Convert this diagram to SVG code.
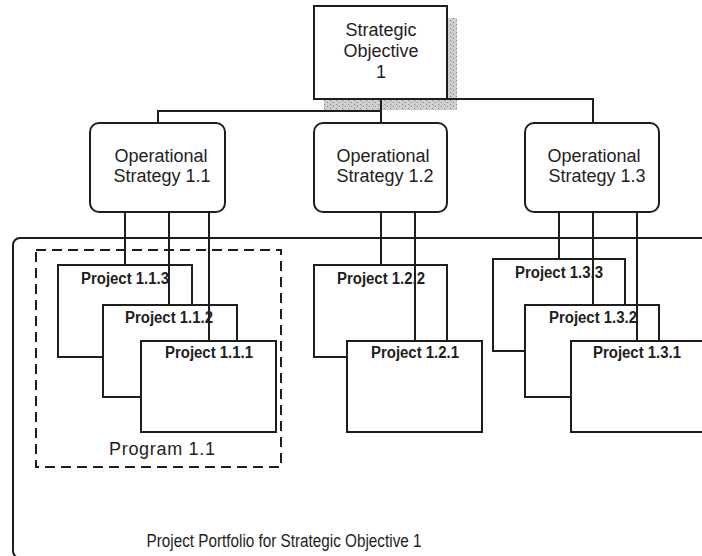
<svg xmlns="http://www.w3.org/2000/svg" width="702" height="556" viewBox="0 0 702 556">
  <style>
    .box { fill: #fff; stroke: #1e1e1e; stroke-width: 2; }
    .wire { fill: none; stroke: #1e1e1e; stroke-width: 2; }
    .dash { fill: none; stroke: #1e1e1e; stroke-width: 2; stroke-dasharray: 10 6; }
    .big { font-family: "Liberation Sans", Arial, sans-serif; font-size: 18px; fill: #1e1e1e; text-anchor: middle; }
    .proj { font-family: "Liberation Sans", Arial, sans-serif; font-size: 16px; font-weight: bold; fill: #1e1e1e; text-anchor: middle; }
  </style>
  <defs>
    <pattern id="stipple" width="6" height="4" patternUnits="userSpaceOnUse">
      <rect width="6" height="4" fill="#d0d0d0"/>
      <rect x="0" y="0" width="1" height="1" fill="#888"/>
      <rect x="3" y="2" width="1" height="1" fill="#888"/>
      <rect x="1" y="1" width="1" height="1" fill="#a8a8a8"/>
    </pattern>
  </defs>
  <rect width="702" height="556" fill="#fff"/>

  <!-- portfolio frame -->
  <g id="portfolio">
    <rect class="box" x="13" y="238" width="720" height="320" rx="7"/>
    <text class="big" x="284" y="547" textLength="275" lengthAdjust="spacingAndGlyphs">Project Portfolio for Strategic Objective 1</text>
  </g>

  <!-- program grouping -->
  <g id="program-1-1">
    <rect class="dash" x="36" y="250" width="245" height="217"/>
    <text class="big" x="162" y="455" textLength="106" lengthAdjust="spacing">Program 1.1</text>
  </g>

  <!-- strategic objective with drop shadow -->
  <g id="objective-1">
    <polygon points="447,18 457,18 457,110 324,110 324,99 447,99" fill="url(#stipple)"/>
    <rect class="box" x="314" y="6" width="133" height="93"/>
    <text class="big" x="381" y="36">Strategic</text>
    <text class="big" x="381" y="57">Objective</text>
    <text class="big" x="381" y="78">1</text>
  </g>

  <!-- operational strategies -->
  <g id="strategy-1-1">
    <rect class="box" x="90" y="123" width="135" height="89" rx="9"/>
    <text class="big" x="161" y="162">Operational</text>
    <text class="big" x="162" y="182">Strategy 1.1</text>
  </g>
  <g id="strategy-1-2">
    <rect class="box" x="314" y="123" width="133" height="89" rx="9"/>
    <text class="big" x="383" y="162">Operational</text>
    <text class="big" x="385" y="182">Strategy 1.2</text>
  </g>
  <g id="strategy-1-3">
    <rect class="box" x="525" y="123" width="134" height="89" rx="9"/>
    <text class="big" x="594" y="162">Operational</text>
    <text class="big" x="597" y="182">Strategy 1.3</text>
  </g>

  <!-- projects under 1.1 -->
  <g id="project-1-1-3">
    <rect class="box" x="58" y="265" width="134" height="92"/>
    <text class="proj" x="125" y="284" textLength="88" lengthAdjust="spacingAndGlyphs">Project 1.1.3</text>
  </g>
  <g id="project-1-1-2">
    <rect class="box" x="103" y="305" width="134" height="92"/>
    <text class="proj" x="169" y="323" textLength="88" lengthAdjust="spacingAndGlyphs">Project 1.1.2</text>
  </g>
  <g id="project-1-1-1">
    <rect class="box" x="141" y="341" width="135" height="91"/>
    <text class="proj" x="209" y="358" textLength="88" lengthAdjust="spacingAndGlyphs">Project 1.1.1</text>
  </g>

  <!-- projects under 1.2 -->
  <g id="project-1-2-2">
    <rect class="box" x="314" y="265" width="133" height="92"/>
    <text class="proj" x="381" y="284" textLength="88" lengthAdjust="spacingAndGlyphs">Project 1.2.2</text>
  </g>
  <g id="project-1-2-1">
    <rect class="box" x="347" y="341" width="135" height="91"/>
    <text class="proj" x="415" y="358" textLength="88" lengthAdjust="spacingAndGlyphs">Project 1.2.1</text>
  </g>

  <!-- projects under 1.3 -->
  <g id="project-1-3-3">
    <rect class="box" x="493" y="259" width="132" height="92"/>
    <text class="proj" x="559" y="278" textLength="88" lengthAdjust="spacingAndGlyphs">Project 1.3.3</text>
  </g>
  <g id="project-1-3-2">
    <rect class="box" x="525" y="305" width="134" height="92"/>
    <text class="proj" x="593" y="323" textLength="88" lengthAdjust="spacingAndGlyphs">Project 1.3.2</text>
  </g>
  <g id="project-1-3-1">
    <rect class="box" x="571" y="341" width="136" height="91"/>
    <text class="proj" x="637" y="358" textLength="88" lengthAdjust="spacingAndGlyphs">Project 1.3.1</text>
  </g>

  <!-- connectors -->
  <g id="connectors">
    <polyline class="wire" points="381,99 381,123"/>
    <polyline class="wire" points="158,123 158,111 381,111"/>
    <polyline class="wire" points="447,99 593,99 593,123"/>

    <line class="wire" x1="125" y1="212" x2="125" y2="265"/>
    <line class="wire" x1="169" y1="212" x2="169" y2="305"/>
    <line class="wire" x1="209" y1="212" x2="209" y2="341"/>

    <line class="wire" x1="381" y1="212" x2="381" y2="265"/>
    <line class="wire" x1="415" y1="212" x2="415" y2="341"/>

    <line class="wire" x1="559" y1="212" x2="559" y2="259"/>
    <line class="wire" x1="593" y1="212" x2="593" y2="305"/>
    <line class="wire" x1="637" y1="212" x2="637" y2="341"/>
  </g>
</svg>
